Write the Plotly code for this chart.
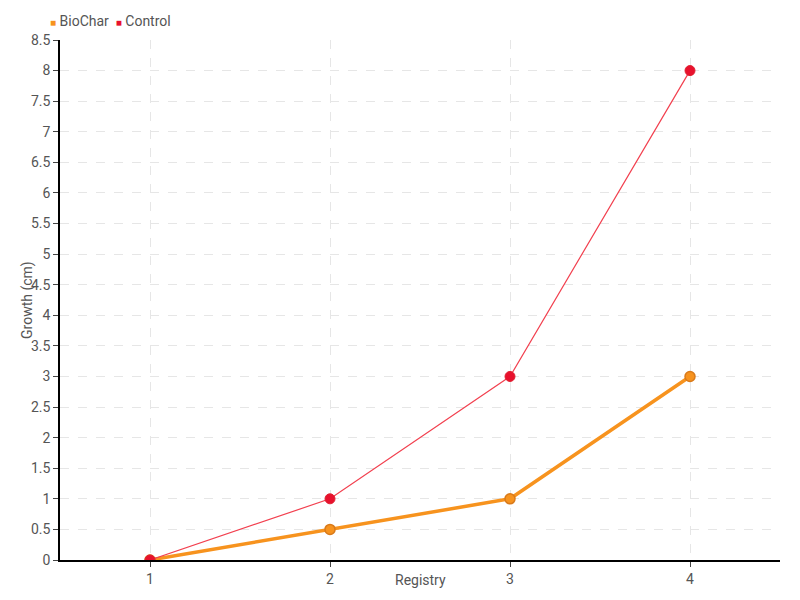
import plotly.graph_objects as go

registry = [1, 2, 3, 4]
biochar = [0, 0.5, 1, 3]
control = [0, 1, 3, 8]

ORANGE = '#f7931e'
RED = '#e8112d'
FONT = 'Roboto, sans-serif'
TXT = dict(size=14, color='#555', family=FONT)

fig = go.Figure()
fig.add_trace(go.Scatter(x=registry, y=biochar, mode='lines+markers', name='BioChar',
                         line=dict(color=ORANGE, width=3.5),
                         marker=dict(color=ORANGE, size=10, line=dict(color='#d97a1a', width=1.5))))
fig.add_trace(go.Scatter(x=registry, y=control, mode='lines+markers', name='Control',
                         line=dict(color='#f2404f', width=1.2),
                         marker=dict(color=RED, size=10, line=dict(color='#e02030', width=1))))

# compact legend, square swatch right next to the name
fig.add_annotation(xref='paper', yref='paper', x=-0.017, y=1.0, xanchor='left', yanchor='bottom',
                   yshift=9, showarrow=False, align='left',
                   text=f'<span style="color:{ORANGE};font-size:10px">■</span> BioChar  '
                        f'<span style="color:{RED};font-size:10px">■</span> Control',
                   font=TXT)
# axis titles
fig.add_annotation(xref='paper', yref='paper', x=0.5, y=0, yshift=-20, xanchor='center', yanchor='middle',
                   showarrow=False, text='Registry', font=TXT)
fig.add_annotation(xref='paper', yref='paper', x=0, y=0.5, xshift=-33, xanchor='center', yanchor='middle',
                   showarrow=False, text='Growth (cm)', textangle=-90, font=TXT)

grid = dict(showgrid=True, gridcolor='#e6e6e6', griddash='dash', gridwidth=1,
            showline=True, linecolor='black', linewidth=1.5, zeroline=False,
            ticks='outside', ticklen=5, tickcolor='#444', automargin=False,
            tickfont=TXT)

fig.update_xaxes(range=[0.5, 4.5], tickvals=registry, **grid)
fig.update_yaxes(range=[0, 8.5], dtick=0.5, **grid)
# page body has an 8px margin, so shift the plot area up/left to compensate
fig.update_layout(width=800, height=600, plot_bgcolor='white', paper_bgcolor='white',
                  margin=dict(l=52, r=28, t=32, b=48, autoexpand=False),
                  font=dict(family=FONT, color='#555'), showlegend=False)
fig.write_html("out.html")
